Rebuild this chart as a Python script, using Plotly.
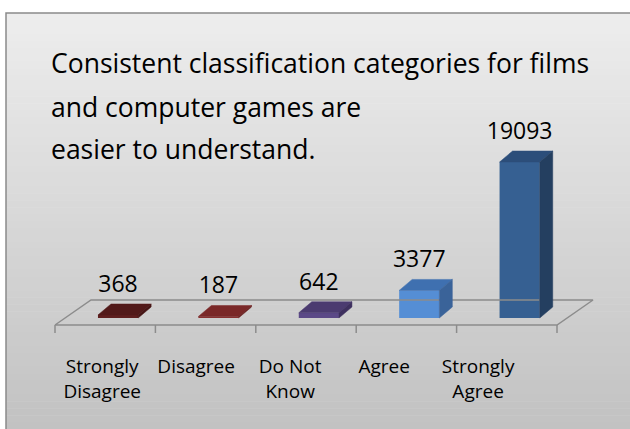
import plotly.graph_objects as go

# ---------------- data ----------------
categories = ["Strongly<br>Disagree", "Disagree", "Do Not<br>Know", "Agree", "Strongly<br>Agree"]
values = [368, 187, 642, 3377, 19093]
title_lines = ["Consistent classification categories for films",
               "and computer games are",
               "easier to understand."]

# ---------------- style ----------------
front_colors = ["#5e1f1f", "#873030", "#5b4987", "#558ed5", "#366092"]
top_colors = ["#521a1a", "#7a2828", "#4b3b70", "#3f70b0", "#2c4e7a"]
side_colors = ["#461515", "#6a2020", "#3e305f", "#3a6399", "#243f60"]

W, H = 630, 429
ML, MR, MT, MB = 10, 10, 20, 89
PX_PER_CAT = 100.4          # horizontal pixels per category
X0_PX = 105.2               # pixel x of category 0 centre
BASE_PX = 318               # pixel y of value 0
UNITS_PER_PX = 19093 / 156  # value units per vertical pixel

def xv(px):
    return (px - X0_PX) / PX_PER_CAT

def yv(py):
    return (BASE_PX - py) * UNITS_PER_PX

x_range = [xv(ML), xv(W - MR)]
y_range = [yv(H - MB), yv(MT)]

def paper_x(px):
    return (px - ML) / (W - ML - MR)

def paper_y(py):
    return 1 - (py - MT) / (H - MT - MB)

fig = go.Figure()

# floor
f_front = yv(325)
f_back = yv(300)
f_dx = 36 / PX_PER_CAT
fl, fr = -0.5, len(values) - 0.5
fig.add_trace(go.Scatter(
    x=[fl, fr, fr + f_dx, fl + f_dx, fl], y=[f_front, f_front, f_back, f_back, f_front],
    mode="lines", line=dict(color="#8c8c8c", width=1.5), hoverinfo="skip", showlegend=False))
tx, ty = [], []
for k in range(len(values) + 1):
    tx += [k - 0.5, k - 0.5, None]
    ty += [f_front, yv(333), None]
fig.add_trace(go.Scatter(x=tx, y=ty, mode="lines", line=dict(color="#8c8c8c", width=1.5),
                         hoverinfo="skip", showlegend=False))

# 3D bars
bar_off = 0.128
bar_w = 0.4
dx = 13 / PX_PER_CAT
dy = 11 * UNITS_PER_PX
xs = [i + bar_off for i in range(len(values))]
fig.add_trace(go.Bar(x=xs, y=values, width=bar_w, marker=dict(color=front_colors, line=dict(width=0)),
                     showlegend=False, hoverinfo="skip"))
for i, v in enumerate(values):
    x0 = xs[i] - bar_w / 2
    x1 = xs[i] + bar_w / 2
    fig.add_trace(go.Scatter(x=[x0, x1, x1 + dx, x0 + dx, x0], y=[v, v, v + dy, v + dy, v],
                             fill="toself", fillcolor=top_colors[i], mode="lines",
                             line=dict(width=0.5, color=top_colors[i]), hoverinfo="skip", showlegend=False))
    fig.add_trace(go.Scatter(x=[x1, x1, x1 + dx, x1 + dx, x1], y=[0, v, v + dy, dy, 0],
                             fill="toself", fillcolor=side_colors[i], mode="lines",
                             line=dict(width=0.5, color=side_colors[i]), hoverinfo="skip", showlegend=False))

# data labels
fig.add_trace(go.Scatter(x=xs, y=[v + dy + 18 * UNITS_PER_PX for v in values],
                         text=[str(v) for v in values], mode="text", textposition="middle center",
                         textfont=dict(family="Open Sans", size=23, color="#000000"),
                         hoverinfo="skip", showlegend=False))

# background gradient + border
shapes = []
top_px, bot_px, left_px = 13, H, 6
n = 60
c0, c1 = (237, 237, 237), (194, 194, 194)
for j in range(n):
    a = top_px + (bot_px - top_px) * j / n
    b = top_px + (bot_px - top_px) * (j + 1) / n + 0.6
    t = j / (n - 1)
    c = tuple(round(c0[m] + (c1[m] - c0[m]) * t) for m in range(3))
    shapes.append(dict(type="rect", xref="paper", yref="paper", layer="below",
                       x0=paper_x(left_px), x1=paper_x(W + 5), y0=paper_y(b), y1=paper_y(a),
                       fillcolor="rgb(%d,%d,%d)" % c, line=dict(width=0)))
shapes.append(dict(type="rect", xref="paper", yref="paper", layer="below",
                   x0=paper_x(left_px), x1=paper_x(W + 5), y0=paper_y(H + 5), y1=paper_y(top_px),
                   fillcolor="rgba(0,0,0,0)", line=dict(color="#8a8a8a", width=1.5)))

# title
annotations = []
for line, py in zip(title_lines, [63, 107, 149]):
    annotations.append(dict(text=line, xref="paper", yref="paper", x=paper_x(49), y=paper_y(py),
                            xanchor="left", yanchor="middle", showarrow=False,
                            font=dict(family="Open Sans", size=26.5, color="#000000")))

# tick labels with slight perspective compression
persp = 0.936
tickvals = [i * persp - 0.03 for i in range(len(categories))]

fig.update_layout(
    width=W, height=H, margin=dict(l=ML, r=MR, t=MT, b=MB),
    paper_bgcolor="#ffffff", plot_bgcolor="rgba(0,0,0,0)",
    shapes=shapes, annotations=annotations, showlegend=False,
    xaxis=dict(range=x_range, showgrid=False, zeroline=False, showline=False, ticks="",
               tickvals=tickvals, ticktext=categories, ticklabelstandoff=13,
               tickfont=dict(family="Open Sans", size=19, color="#000000"), fixedrange=True),
    yaxis=dict(range=y_range, visible=False, fixedrange=True),
)

fig.write_html("out.html", post_script="document.body.style.margin='0';",
               config={"displayModeBar": False, "staticPlot": True})
